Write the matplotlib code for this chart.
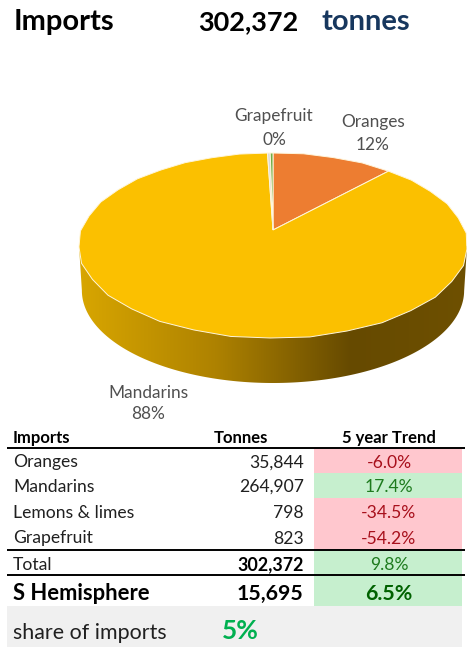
import numpy as np
import matplotlib
matplotlib.use('Agg')
import matplotlib.pyplot as plt
from matplotlib.colors import LinearSegmentedColormap
from matplotlib.patches import Polygon, Rectangle

plt.rcParams['font.family'] = ['Lato', 'DejaVu Sans']

# data
fruit = ['Oranges', 'Mandarins', 'Lemons & limes', 'Grapefruit']
tonnes = [35844, 264907, 798, 823]
trend = [-6.0, 17.4, -34.5, -54.2]
total_tonnes = 302372
total_trend = 9.8
south_tonnes = 15695
south_trend = 6.5
south_share = 5
pie_colors = ['#ED7D31', '#FBC000', '#D9D9D9', '#70AD47']

RED_BG, RED_TXT = '#FFC7CE', '#A8101C'
GREEN_BG, GREEN_TXT = '#C6EFCE', '#1E7B1E'

fig = plt.figure(figsize=(4.67, 6.47), dpi=100)
ax = fig.add_axes([0, 0, 1, 1])

# pie centre and perspective, in picture pixels
CX, CY = 273, 230
PERSP, SY, SX = 0.1676, 89.9, 191.3
DEPTH = 45


def project(pts):
    """unit disc -> tilted disc with the apex off the ellipse centre"""
    w = 1 + PERSP * pts[:, 1]
    return np.column_stack([CX + SX * pts[:, 0] / w, CY - SY * pts[:, 1] / w])


# ax.pie gives the wedges, then they get tilted on the main axes
pie_ax = fig.add_axes([0, 0, 1, 1])
wedges, _ = pie_ax.pie(tonnes, colors=pie_colors, startangle=90, counterclock=False)
pie_ax.set_visible(False)

t = np.linspace(0, 2 * np.pi, 400)
rim = project(np.column_stack([np.cos(t), np.sin(t)]))

# side wall with left to right shading
low = rim.copy()
low[:, 0] = CX + (low[:, 0] - CX) * 0.985
low[:, 1] = low[:, 1] + DEPTH
left = np.argmin(low[:, 0])
lower = low[low[:, 1] >= low[left, 1]]
lower = lower[np.argsort(lower[:, 0])]
wall = np.vstack([[rim[np.argmin(rim[:, 0])]], lower, [rim[np.argmax(rim[:, 0])]]])
wall_poly = Polygon(wall, closed=True, transform=ax.transData, fc='none', ec='none')
ax.add_patch(wall_poly)
shade = LinearSegmentedColormap.from_list(
    'shade', [(0, '#D8A600'), (0.35, '#AE8200'), (0.7, '#664A00'), (1, '#6E5000')])
im = ax.imshow(np.linspace(0, 1, 256)[None, :], cmap=shade, aspect='auto',
               extent=(rim[:, 0].min(), rim[:, 0].max(), 400, 240), zorder=1)
im.set_clip_path(wall_poly)

for w in wedges:
    path = w.get_patch_transform().transform_path(w.get_path())
    pts = project(path.to_polygons()[0])
    ax.add_patch(Polygon(pts, closed=True, fc=w.get_facecolor(), ec='#FFF6DC', lw=0.7, zorder=2))

ax.set_xlim(0, 467)
ax.set_ylim(647, 0)
ax.axis('off')

# pie labels
total = sum(tonnes)
label_pos = {'Oranges': (373, 120, 24), 'Mandarins': (148, 391, 22), 'Grapefruit': (274, 115, 24)}
for name, val in zip(fruit, tonnes):
    if name in label_pos:
        x, y, gap = label_pos[name]
        ax.text(x, y + 1.5, name, ha='center', va='center', fontsize=12.4, color='#505050')
        ax.text(x, y + gap + 1, f'{val / total:.0%}', ha='center', va='center', fontsize=12.4, color='#505050')

# title
ax.text(14, 22, 'Imports', fontsize=21, fontweight='bold', color='black', va='center')
ax.text(298, 22, f'{total_tonnes:,}', fontsize=19.5, fontweight='bold', color='black', va='center', ha='right')
ax.text(321, 22, 'tonnes', fontsize=21, fontweight='bold', color='#17375E', va='center')

# table
ax.text(13, 438, 'Imports', fontsize=12, fontweight='bold', va='center')
ax.text(240.5, 438, 'Tonnes', fontsize=12, fontweight='bold', va='center', ha='center')
ax.text(389, 438, '5 year Trend', fontsize=12, fontweight='bold', va='center', ha='center')

row_top = [449, 473, 498, 524]
row_h = [24, 25, 26, 26]
for name, val, tr, y0, h in zip(fruit, tonnes, trend, row_top, row_h):
    up = tr > 0
    ax.add_patch(Rectangle((314, y0), 148, h, fc=GREEN_BG if up else RED_BG, ec='none'))
    ym = y0 + h / 2 + 1.5
    ax.text(13, ym, name, fontsize=12.6, color='#202020', va='center')
    ax.text(304, ym, f'{val:,}', fontsize=12.6, color='#202020', va='center', ha='right')
    ax.text(389, ym, f'{tr:.1f}%', fontsize=12.6, color=GREEN_TXT if up else RED_TXT, va='center', ha='center')

ax.add_patch(Rectangle((314, 551), 148, 23, fc=GREEN_BG, ec='none'))
ax.text(13, 565, 'Total', fontsize=12.6, color='#202020', va='center')
ax.text(304, 565, f'{total_tonnes:,}', fontsize=12.9, fontweight='bold', va='center', ha='right')
ax.text(389, 565, f'{total_trend:.1f}%', fontsize=12.6, color=GREEN_TXT, va='center', ha='center')

ax.add_patch(Rectangle((314, 576), 148, 30, fc=GREEN_BG, ec='none'))
ax.text(13, 594, 'S Hemisphere', fontsize=15.8, fontweight='bold', va='center')
ax.text(303, 594, f'{south_tonnes:,}', fontsize=15.4, fontweight='bold', va='center', ha='right')
ax.text(389, 594, f'{south_trend:.1f}%', fontsize=15.4, fontweight='bold', color='#006100', va='center', ha='center')

ax.add_patch(Rectangle((7, 606), 455, 41, fc='#F0F0F0', ec='none'))
ax.text(13, 633, 'share of imports', fontsize=15.4, color='#202020', va='center')
ax.text(222, 631, f'{south_share}%', fontsize=19, fontweight='bold', color='#00B050', va='center')

for y in [448, 550, 575]:
    ax.plot([7, 465], [y, y], color='black', lw=1.4, solid_capstyle='butt')

fig.savefig('out.png', dpi=100)
